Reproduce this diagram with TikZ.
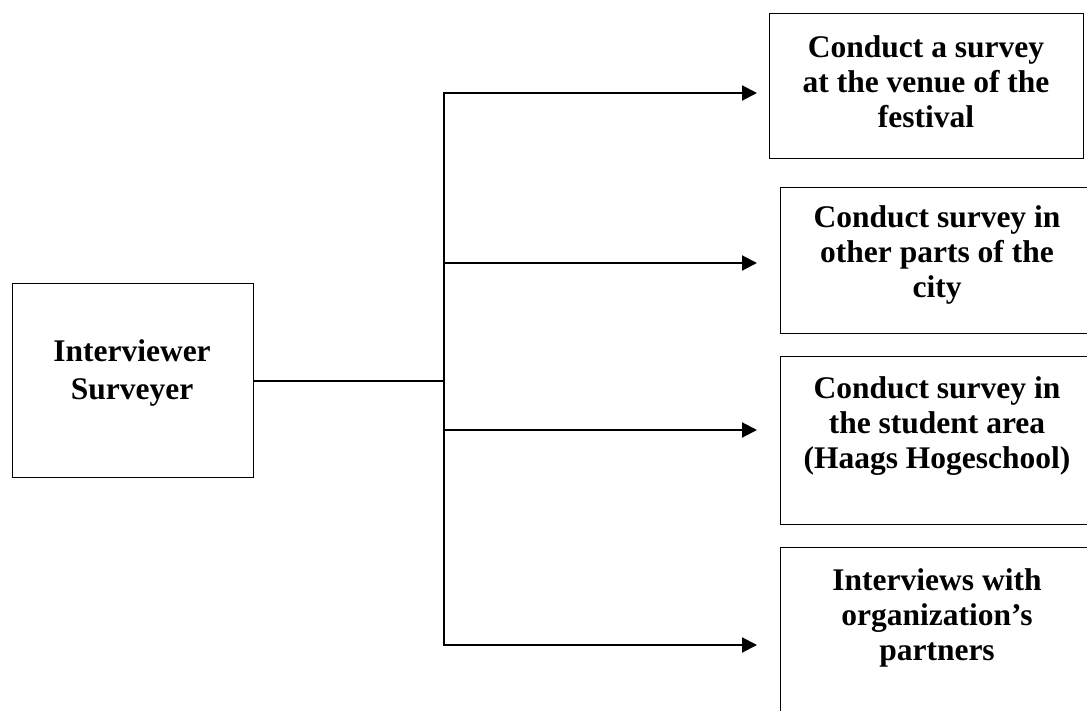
\documentclass[tikz,border=0pt]{standalone}
\usepackage{fontspec}
\setmainfont{Liberation Serif}
\usetikzlibrary{arrows.meta}
\begin{document}
\begin{tikzpicture}[x=1pt,y=-1pt,
  box/.style={draw, line width=1.3pt, inner sep=0pt, anchor=north west},
  lbl/.style={font=\bfseries\fontsize{31.5}{35}\selectfont, align=center, anchor=base, inner sep=0pt},
  conn/.style={line width=2pt},
  arr/.style={conn, -{Triangle[length=15pt,width=15pt]}}]
\clip (0,0) rectangle (1087,711);
\fill[white] (0,0) rectangle (1087,711);
% boxes
\node[box, minimum width=241pt, minimum height=194pt] (src) at (12,283) {};
\node[box, minimum width=314pt, minimum height=145pt] (b1) at (769,13) {};
\node[box, minimum width=314pt, minimum height=146pt] (b2) at (780,187) {};
\node[box, minimum width=314pt, minimum height=168pt] (b3) at (780,356) {};
\node[box, minimum width=314pt, minimum height=190pt] (b4) at (780,547) {};
% labels (base anchor = baseline of the last line)
\node[lbl, font=\bfseries\fontsize{31.5}{38}\selectfont] (ls) at (132,399) {Interviewer\\Surveyer};
\node[lbl] (l1) at (926,128) {Conduct a survey\\at the venue of the\\festival};
\node[lbl] (l2) at (937,298) {Conduct survey in\\other parts of the\\city};
\node[lbl] (l3) at (937,468) {Conduct survey in\\the student area\\(Haags Hogeschool)};
\node[lbl] (l4) at (937,660) {Interviews with\\organization’s\\partners};
% connectors
\coordinate (hub) at (444,380);
\coordinate (j2) at (444,263);
\coordinate (j3) at (444,430);
\coordinate (t1) at (757,93);
\coordinate (t2) at (757,263);
\coordinate (t3) at (757,430);
\coordinate (t4) at (757,645);
\draw[conn] (src.east) -- (src.east -| hub);
\draw[arr] (hub) |- (t1);
\draw[arr] (hub) |- (t4);
\draw[arr] (j2) -- (t2);
\draw[arr] (j3) -- (t3);
\end{tikzpicture}
\end{document}
